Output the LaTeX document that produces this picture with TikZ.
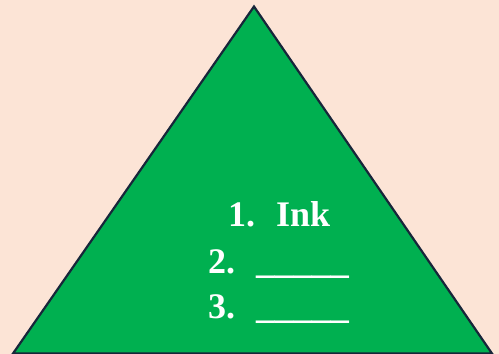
\documentclass[tikz,border=0pt]{standalone}
\usepackage{fontspec}
\setmainfont{Liberation Serif}
\definecolor{bgpeach}{HTML}{FCE4D6}
\definecolor{trigreen}{HTML}{00B050}
\definecolor{edgenavy}{HTML}{17263A}
\tikzset{
  listtxt/.style={anchor=base west, inner sep=0pt, text=white, font=\fontsize{36}{40}\selectfont\bfseries},
}
\begin{document}
\begin{tikzpicture}[x=1pt,y=-1pt]
\fill[bgpeach] (0,0) rectangle (499,354);
\useasboundingbox (0,0) rectangle (499,354);
\coordinate (apex) at (254,6.5);
\coordinate (bl) at (13,353.5);
\coordinate (br) at (492,353.5);
\filldraw[fill=trigreen, draw=edgenavy, line width=2.2pt, line join=miter] (apex) -- (br) -- (bl) -- cycle;
\node[listtxt] (one) at (228,226) {1.};
\node[listtxt] (ink) at (276,226) {Ink};
\node[listtxt] (two) at (208,273) {2.};
\node[listtxt, xscale=1.03] (twoline) at (256,273) {\_\_\_\_\_};
\node[listtxt] (three) at (208,318) {3.};
\node[listtxt, xscale=1.03] (threeline) at (256,318) {\_\_\_\_\_};
\end{tikzpicture}
\end{document}
